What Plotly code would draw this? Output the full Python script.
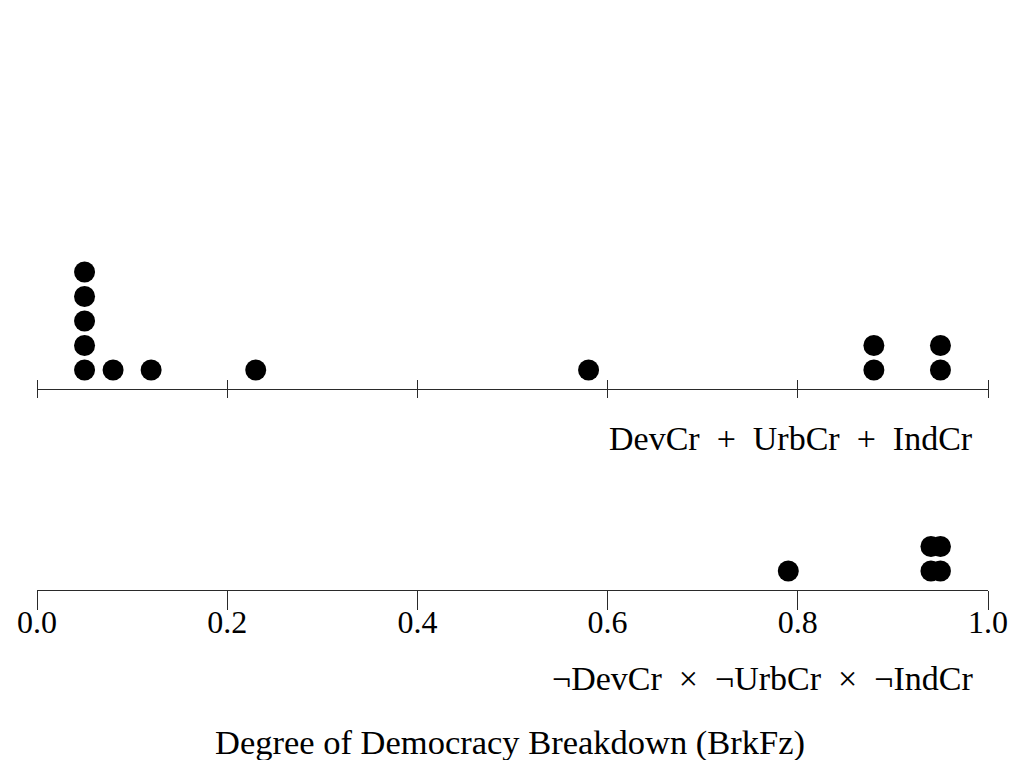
import plotly.graph_objects as go

# Data (Degree of democracy breakdown, BrkFz) per configuration
top_label = "DevCr\u00a0 +\u00a0 UrbCr\u00a0 +\u00a0 IndCr"
top_values = [0.05, 0.05, 0.05, 0.05, 0.05, 0.08, 0.12, 0.23, 0.58, 0.88, 0.88, 0.95, 0.95]
bottom_label = "¬DevCr\u00a0 ×\u00a0 ¬UrbCr\u00a0 ×\u00a0 ¬IndCr"
bottom_values = [0.79, 0.94, 0.94, 0.95, 0.95]
tick_vals = [0.0, 0.2, 0.4, 0.6, 0.8, 1.0]
tick_text = ["0.0", "0.2", "0.4", "0.6", "0.8", "1.0"]
x_title = "Degree of Democracy Breakdown (BrkFz)"


def stack(values):
    counts = {}
    ys = []
    for v in values:
        counts[v] = counts.get(v, 0) + 1
        ys.append(counts[v])
    return ys


FONT = "Liberation Serif"
W, H = 1032, 760
fig = go.Figure()

marker = dict(color="black", size=21, line=dict(width=0))
fig.add_trace(go.Scatter(x=top_values, y=stack(top_values), mode="markers",
                         marker=marker, xaxis="x", yaxis="y", cliponaxis=False,
                         showlegend=False, hoverinfo="x"))
fig.add_trace(go.Scatter(x=bottom_values, y=stack(bottom_values), mode="markers",
                         marker=marker, xaxis="x2", yaxis="y2", cliponaxis=False,
                         showlegend=False, hoverinfo="x"))
# helper traces so overlay axes get drawn
fig.add_trace(go.Scatter(x=[None], y=[None], xaxis="x3", yaxis="y", showlegend=False))
fig.add_trace(go.Scatter(x=[None], y=[None], xaxis="x4", yaxis="y2", showlegend=False))

step = 24.5
r0 = 1 - 19 / step


def pf(px):
    return 1 - px / H


top_bot, top_top = 389, 150
bot_bot, bot_top = 590, 470

LC = "#2a2a2a"
axis_common = dict(range=[0, 1], tickvals=tick_vals, ticktext=tick_text,
                   showgrid=False, zeroline=False, showline=False,
                   linecolor=LC, linewidth=1.3, tickcolor=LC, tickwidth=1.3,
                   tickfont=dict(family=FONT, size=32, color="black"),
                   showticklabels=False, ticks="")

fig.update_layout(
    width=W, height=H,
    margin=dict(l=37, r=W - 988, t=0, b=0, autoexpand=False),
    paper_bgcolor="white", plot_bgcolor="white",
    # top axis: line + crossing ticks
    xaxis=dict(axis_common, anchor="y", showline=True),
    xaxis3=dict(axis_common, overlaying="x", anchor="free", position=pf(top_bot + 9),
                side="top", ticks="outside", ticklen=18),
    # bottom axis: line + downward ticks, labels from overlay axis
    xaxis2=dict(axis_common, anchor="y2", showline=True, ticks="outside", ticklen=19),
    xaxis4=dict(axis_common, overlaying="x2", anchor="free", position=pf(600),
                showticklabels=True),
    yaxis=dict(domain=[pf(top_bot), pf(top_top)], range=[r0, r0 + (top_bot - top_top) / step],
               visible=False),
    yaxis2=dict(domain=[pf(bot_bot), pf(bot_top)], range=[r0, r0 + (bot_bot - bot_top) / step],
                visible=False),
    annotations=[
        dict(text=top_label, xref="paper", yref="paper", x=(975 - 37) / 951, y=pf(438),
             xanchor="right", yanchor="middle", showarrow=False,
             font=dict(family=FONT, size=34, color="black")),
        dict(text=bottom_label, xref="paper", yref="paper", x=(975 - 37) / 951, y=pf(678),
             xanchor="right", yanchor="middle", showarrow=False,
             font=dict(family=FONT, size=34, color="black")),
        dict(text=x_title, xref="paper", yref="paper", x=(510 - 37) / 951, y=pf(742),
             xanchor="center", yanchor="middle", showarrow=False,
             font=dict(family=FONT, size=34.5, color="black")),
    ],
)

fig.write_html("out.html", config={"displayModeBar": False},
               post_script="document.body.style.margin='0';")
